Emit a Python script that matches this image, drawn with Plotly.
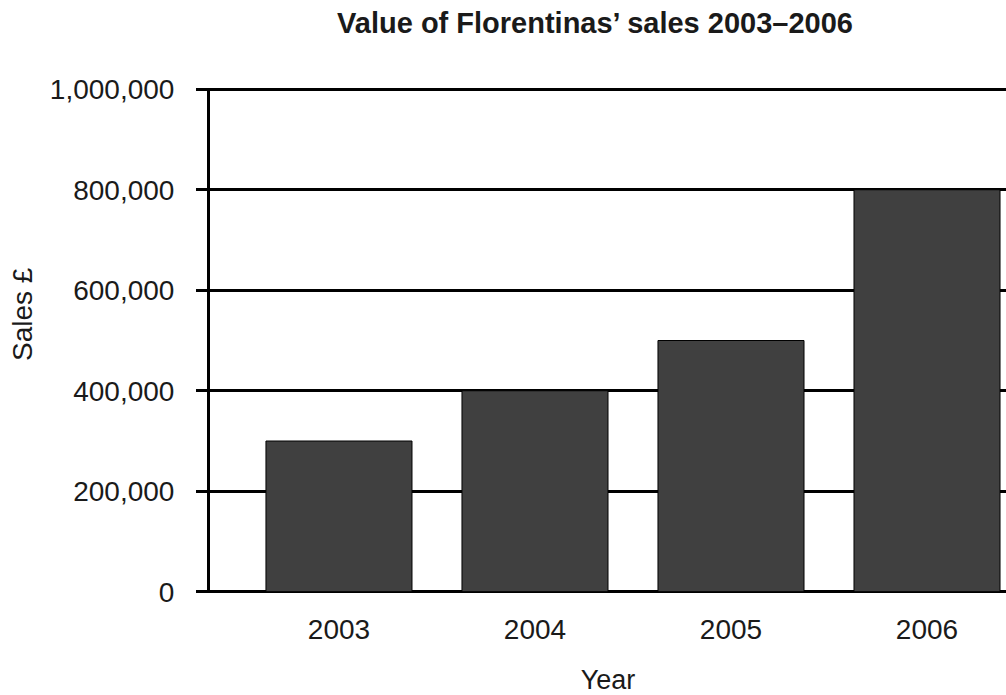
import plotly.graph_objects as go

# Annual sales figures for Florentinas
years = ["2003", "2004", "2005", "2006"]
sales = [300000, 400000, 500000, 800000]

# Y-axis ticks
y_ticks = [0, 200000, 400000, 600000, 800000, 1000000]

FONT = "Liberation Sans, Arial, Helvetica, sans-serif"
INK = "#1a1a1a"

fig = go.Figure(
    go.Bar(
        x=years,
        y=sales,
        width=0.745,
        marker=dict(color="#404040", line=dict(color="#000000", width=1)),
        hoverinfo="x+y",
    )
)

fig.update_layout(
    width=1006,
    height=695,
    margin=dict(l=210, r=0, t=88, b=102),
    paper_bgcolor="white",
    plot_bgcolor="white",
    showlegend=False,
    font=dict(family=FONT, color=INK),
    title=dict(
        text="<b>Value of Florentinas’ sales 2003–2006</b>",
        font=dict(size=29, family=FONT, color=INK),
        x=595 / 1006,
        xanchor="center",
        xref="container",
        y=1 - 23 / 695,
        yanchor="middle",
        yref="container",
    ),
    annotations=[
        dict(
            text="Sales £",
            textangle=-90,
            xref="paper",
            yref="paper",
            x=(22 - 210) / 796,
            y=(593 - 314) / 505,
            xanchor="center",
            yanchor="middle",
            showarrow=False,
            font=dict(size=28, family=FONT, color=INK),
        )
    ],
)

fig.update_xaxes(
    type="category",
    range=[-0.658, 3.403],
    showgrid=False,
    zeroline=False,
    showline=False,
    ticks="",
    ticklabelstandoff=17,
    tickfont=dict(size=28, family=FONT, color=INK),
    title=dict(text="Year", font=dict(size=27, family=FONT, color=INK), standoff=26),
)

fig.update_yaxes(
    range=[-2500, 1002500],
    tickvals=y_ticks,
    tickformat=",d",
    showgrid=True,
    gridcolor="#000000",
    gridwidth=2.5,
    zeroline=False,
    showline=True,
    linecolor="#000000",
    linewidth=3,
    ticks="outside",
    ticklen=11,
    tickwidth=2.5,
    tickcolor="#000000",
    ticklabelstandoff=16,
    tickfont=dict(size=28, family=FONT, color=INK),
)

fig.write_html("out.html")
